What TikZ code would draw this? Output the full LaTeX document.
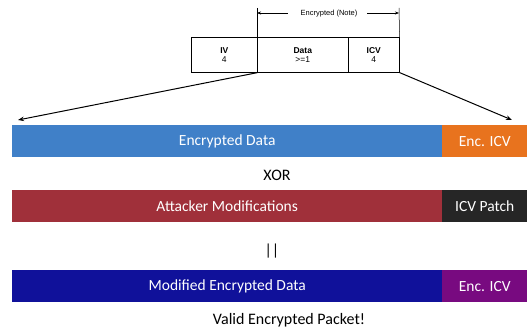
\documentclass[tikz,border=0pt]{standalone}
\usepackage{fontspec}
\setmainfont{Carlito}
\newfontfamily\arialf{Liberation Sans}
\usetikzlibrary{arrows.meta}
\definecolor{encblue}{HTML}{4080C8}
\definecolor{encorange}{HTML}{E8731E}
\definecolor{attred}{HTML}{A0303A}
\definecolor{patchdark}{HTML}{262626}
\definecolor{moddark}{HTML}{10119A}
\definecolor{modpurple}{HTML}{780A80}
\tikzset{
  pkt/.style={draw=black, line width=0.6pt, minimum height=35pt, inner sep=0pt, font=\arialf\fontsize{8.5}{9}\selectfont, align=center},
  bar/.style={minimum height=32pt, inner sep=0pt, text=white, font=\fontsize{15.5}{17}\selectfont},
  lbl/.style={font=\fontsize{16}{18}\selectfont, inner sep=0pt},
  arr/.style={-{Stealth[length=6pt,width=4.5pt]}, line width=1pt},
  dim/.style={{Stealth[length=4pt,width=3pt]}-, line width=0.5pt},
}
\begin{document}
\begin{tikzpicture}[x=1pt,y=-1pt]
\useasboundingbox (0,0) rectangle (527,329);
% top packet
\node[pkt, minimum width=66pt, anchor=north west] (iv) at (191,37) {\textbf{IV}\\4};
\node[pkt, minimum width=91pt, anchor=north west] (data) at (257,37) {\textbf{Data}\\>=1};
\node[pkt, minimum width=51pt, anchor=north west] (icv) at (348,37) {\textbf{ICV}\\4};
% encrypted bracket
\coordinate (tl) at (257,8);
\coordinate (tr) at (399,8);
\draw[line width=0.5pt] (tl) -- (data.north west);
\draw[line width=0.5pt] (tr) -- (icv.north east);
\node[font=\arialf\fontsize{7.5}{9}\selectfont, inner sep=0pt] (enc) at (329,14) {Encrypted (Note)};
\coordinate (dl) at (257,13);
\coordinate (dr) at (399,13);
\draw[dim] (dl) -- (288,13);
\draw[dim] (dr) -- (367,13);
% bars
\node[bar, fill=encblue, minimum width=430pt, anchor=north west] (ed) at (12,125) {Encrypted Data};
\node[bar, fill=encorange, minimum width=85pt, anchor=north west] (eicv) at (442,125) {Enc. ICV};
\node[lbl] (xor) at (277,175) {XOR};
\node[bar, fill=attred, minimum width=430pt, anchor=north west] (am) at (12,190) {Attacker Modifications};
\node[bar, fill=patchdark, minimum width=85pt, anchor=north west] (ip) at (442,190) {ICV Patch};
\node[lbl] (eq) at (272,251) {||};
\node[bar, fill=moddark, minimum width=430pt, anchor=north west] (med) at (12,270) {Modified Encrypted Data};
\node[bar, fill=modpurple, minimum width=85pt, anchor=north west] (micv) at (442,270) {Enc. ICV};
\node[lbl] (valid) at (289,320) {Valid Encrypted Packet!};
% arrows
\coordinate (la) at (18,120);
\coordinate (ra) at (512,120);
\draw[arr] (iv.south east) -- (la);
\draw[arr] (icv.south east) -- (ra);
\end{tikzpicture}
\end{document}
